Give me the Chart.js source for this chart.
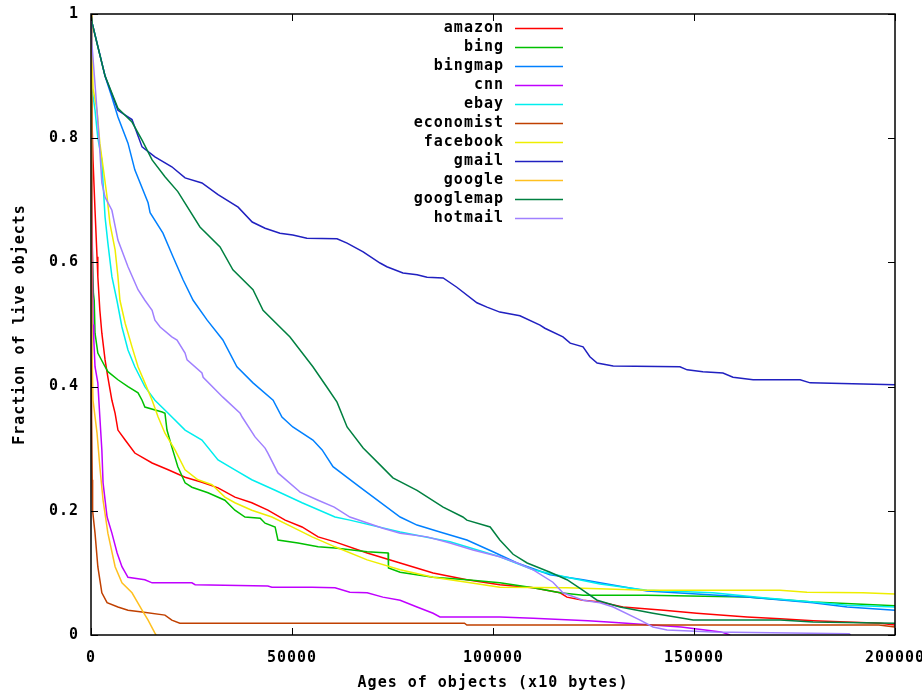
<!DOCTYPE html>
<html>
<head>
<meta charset="utf-8">
<script src="https://cdn.jsdelivr.net/npm/chart.js@4.4.0/dist/chart.umd.min.js"></script>
<style>
  html, body { margin: 0; padding: 0; background: #fff; }
  canvas { display: block; }
</style>
</head>
<body>
<canvas id="c" width="922" height="698"></canvas>
<script>
// ---- data ----
const seriesNames = ["amazon", "bing", "bingmap", "cnn", "ebay", "economist",
                     "facebook", "gmail", "google", "googlemap", "hotmail"];

const xTickValues = [0, 50000, 100000, 150000, 200000];
const xTickLabels = ["0", "50000", "100000", "150000", "200000"];
const yTickValues = [0, 0.2, 0.4, 0.6, 0.8, 1];
const yTickLabels = ["0", "0.2", "0.4", "0.6", "0.8", "1"];

// [age, fraction]
const amazon = [[0,1],[250,0.9],[250,0.83],[500,0.765],[1000,0.684],[1500,0.609],[1700,0.577],[2200,0.523],[2700,0.486],[3500,0.443],[4200,0.415],[5200,0.378],[6000,0.357],[6700,0.33],[8500,0.314],[10900,0.293],[15200,0.277],[19200,0.266],[23400,0.254],[27600,0.246],[31600,0.237],[35800,0.222],[40000,0.213],[44000,0.201],[48300,0.185],[52500,0.174],[56500,0.158],[60700,0.15],[68700,0.132],[76900,0.116],[85100,0.1],[93500,0.089],[101700,0.081],[110000,0.076],[116700,0.068],[118400,0.061],[122400,0.056],[126600,0.053],[132300,0.045],[142500,0.04],[150700,0.035],[163200,0.029],[171400,0.026],[179600,0.023],[196300,0.019],[200000,0.016]];
const bing = [[0,1],[150,0.67],[400,0.6],[600,0.55],[800,0.539],[1000,0.486],[1700,0.454],[3500,0.432],[4200,0.424],[6700,0.411],[9200,0.4],[11700,0.39],[12700,0.378],[13400,0.367],[17700,0.359],[18400,0.357],[18900,0.33],[20100,0.303],[21600,0.271],[23400,0.245],[25100,0.238],[29100,0.229],[33300,0.217],[35800,0.201],[38300,0.19],[42100,0.188],[43300,0.18],[45800,0.174],[46500,0.153],[51500,0.148],[56500,0.142],[60700,0.14],[68700,0.134],[73900,0.132],[74000,0.108],[76900,0.101],[85100,0.093],[93500,0.089],[101700,0.084],[110000,0.076],[116700,0.068],[122400,0.064],[138300,0.064],[163200,0.061],[179600,0.053],[200000,0.047]];
const bingmap = [[0,1],[300,0.985],[3500,0.9],[5200,0.866],[6700,0.834],[9200,0.792],[10900,0.749],[14200,0.696],[14700,0.68],[17900,0.647],[20400,0.609],[22900,0.572],[25400,0.539],[28900,0.507],[32800,0.475],[36300,0.432],[40300,0.406],[45300,0.378],[47500,0.351],[50200,0.335],[55200,0.314],[57500,0.298],[60200,0.271],[66900,0.238],[76900,0.19],[81100,0.177],[86800,0.166],[93500,0.153],[100000,0.134],[106000,0.116],[114200,0.097],[122400,0.089],[126600,0.084],[138300,0.071],[150700,0.066],[163200,0.061],[179600,0.052],[188100,0.045],[200000,0.04]];
const cnn = [[0,1],[100,0.85],[300,0.65],[500,0.5],[700,0.475],[1000,0.432],[1700,0.406],[2200,0.351],[2700,0.298],[3000,0.245],[4000,0.19],[5200,0.164],[6500,0.132],[7700,0.11],[9200,0.093],[13400,0.089],[15200,0.084],[25100,0.084],[25900,0.081],[44000,0.079],[45000,0.077],[55000,0.077],[60700,0.076],[64400,0.069],[68700,0.068],[72600,0.061],[76900,0.056],[81100,0.045],[85100,0.035],[86800,0.029],[101700,0.029],[110000,0.027],[123600,0.023],[128600,0.021],[146800,0.013],[156700,0.005],[159000,0]];
const ebay = [[0,1],[250,0.88],[1000,0.845],[1700,0.8],[2700,0.765],[3000,0.728],[3500,0.673],[4200,0.631],[5200,0.577],[6500,0.537],[7700,0.496],[9200,0.459],[10900,0.432],[13400,0.4],[15900,0.378],[19200,0.357],[23400,0.33],[27600,0.314],[31600,0.282],[35800,0.266],[40000,0.25],[45800,0.233],[52500,0.213],[60700,0.19],[64400,0.185],[76900,0.166],[89300,0.15],[101700,0.126],[110000,0.105],[118400,0.093],[126600,0.082],[138300,0.072],[154700,0.068],[167200,0.06],[179600,0.053],[188100,0.048],[200000,0.045]];
const economist = [[0,1],[100,0.6],[200,0.35],[300,0.25],[400,0.2],[1000,0.164],[1700,0.11],[2700,0.068],[4000,0.052],[6700,0.045],[9200,0.04],[12700,0.037],[18400,0.032],[20100,0.024],[22100,0.019],[92900,0.019],[93500,0.016],[196000,0.016],[200000,0.013]];
const facebook = [[0,1],[250,0.942],[500,0.88],[1500,0.845],[2200,0.792],[3000,0.754],[4000,0.705],[4700,0.663],[6000,0.62],[6700,0.577],[7200,0.539],[8500,0.502],[10200,0.464],[11700,0.432],[13400,0.406],[15200,0.378],[16700,0.351],[18400,0.325],[20900,0.298],[23400,0.266],[26600,0.25],[30100,0.242],[33300,0.222],[35800,0.213],[40000,0.201],[45000,0.19],[50000,0.174],[55000,0.158],[60700,0.142],[68700,0.121],[76900,0.105],[85100,0.093],[93500,0.085],[101700,0.077],[118400,0.076],[138300,0.072],[171400,0.072],[178100,0.069],[192000,0.068],[200000,0.066]];
const gmail = [[0,1],[300,0.985],[3500,0.9],[6700,0.845],[10200,0.83],[12700,0.786],[15900,0.77],[20100,0.754],[23400,0.736],[27600,0.728],[31600,0.709],[36600,0.689],[40100,0.665],[43300,0.655],[47000,0.647],[50200,0.644],[53700,0.639],[61200,0.638],[63700,0.631],[67700,0.617],[71900,0.599],[73600,0.593],[77600,0.583],[81100,0.58],[83600,0.576],[87600,0.575],[91000,0.56],[96000,0.535],[98500,0.528],[101700,0.52],[106700,0.514],[111700,0.499],[112900,0.494],[117400,0.48],[119200,0.47],[122400,0.464],[124100,0.448],[125900,0.438],[129900,0.433],[146500,0.432],[148300,0.427],[152200,0.424],[157200,0.422],[159700,0.415],[164700,0.411],[176400,0.411],[178900,0.406],[200000,0.403]];
const google = [[0,1],[100,0.7],[200,0.55],[250,0.454],[500,0.378],[1500,0.325],[2200,0.271],[3000,0.217],[4200,0.164],[6000,0.11],[7700,0.084],[10200,0.068],[12700,0.04],[14200,0.024],[15900,0.003],[16200,0]];
const googlemap = [[0,1],[300,0.985],[3500,0.9],[6700,0.848],[10200,0.826],[12700,0.797],[15200,0.765],[18400,0.738],[21600,0.714],[27100,0.657],[32100,0.625],[35300,0.588],[40300,0.556],[42800,0.523],[49500,0.48],[55200,0.432],[58700,0.399],[61200,0.375],[63700,0.335],[67700,0.301],[71900,0.274],[75100,0.253],[81100,0.233],[87600,0.206],[92500,0.19],[93500,0.185],[99300,0.174],[101700,0.153],[105000,0.13],[108500,0.116],[114200,0.101],[118400,0.089],[122400,0.072],[125900,0.056],[131600,0.045],[139800,0.035],[149800,0.024],[171400,0.024],[179600,0.021],[200000,0.019]];
const hotmail = [[0,1],[250,0.95],[1200,0.87],[2000,0.8],[2700,0.728],[3500,0.705],[5200,0.684],[6700,0.636],[9200,0.593],[11700,0.556],[13400,0.539],[15200,0.523],[15900,0.507],[17200,0.496],[20100,0.48],[21400,0.475],[23400,0.454],[23900,0.443],[27600,0.422],[27900,0.415],[32800,0.383],[37100,0.357],[37600,0.351],[40800,0.319],[43300,0.301],[44000,0.293],[46500,0.261],[51500,0.233],[52000,0.23],[56500,0.217],[60500,0.206],[64400,0.19],[72600,0.172],[76900,0.164],[83600,0.158],[89300,0.148],[95000,0.137],[101700,0.126],[106000,0.116],[110000,0.105],[114900,0.085],[117400,0.068],[122400,0.056],[126600,0.052],[129900,0.045],[136600,0.024],[139800,0.013],[143300,0.008],[154700,0.005],[188600,0.002],[189000,0]];

const seriesData = [amazon, bing, bingmap, cnn, ebay, economist, facebook, gmail, google, googlemap, hotmail];

// gnuplot default line colours
const seriesColors = ["#ff0000", "#00c000", "#0080ff", "#c000ff", "#00eeee", "#c04000",
                      "#eeee00", "#2020c0", "#ffc020", "#008040", "#a080ff"];

const FONT = "bold 15px 'DejaVu Sans Mono', monospace";

// white background
const bgPlugin = {
  id: "bg",
  beforeDraw(chart) {
    const ctx = chart.ctx;
    ctx.save();
    ctx.fillStyle = "#fff";
    ctx.fillRect(0, 0, chart.width, chart.height);
    ctx.restore();
  }
};

// gnuplot style frame, inward ticks, labels and key
const frame = {
  id: "frame",
  afterDatasetsDraw(chart) {
    const ctx = chart.ctx;
    const a = chart.chartArea;
    const xs = chart.scales.x, ys = chart.scales.y;
    const tl = 7;
    ctx.save();
    ctx.strokeStyle = "#000";
    ctx.lineWidth = 1.5;
    ctx.strokeRect(a.left, a.top, a.right - a.left, a.bottom - a.top);

    ctx.beginPath();
    xTickValues.forEach(v => {
      const px = Math.round(xs.getPixelForValue(v)) + 0.5;
      ctx.moveTo(px, a.bottom); ctx.lineTo(px, a.bottom - tl);
      ctx.moveTo(px, a.top); ctx.lineTo(px, a.top + tl);
    });
    yTickValues.forEach(v => {
      const py = Math.round(ys.getPixelForValue(v)) + 0.5;
      ctx.moveTo(a.left, py); ctx.lineTo(a.left + tl, py);
      ctx.moveTo(a.right, py); ctx.lineTo(a.right - tl, py);
    });
    ctx.lineWidth = 1;
    ctx.stroke();

    ctx.fillStyle = "#000";
    ctx.font = FONT;
    ctx.letterSpacing = "1px";
    ctx.textBaseline = "middle";

    ctx.textAlign = "right";
    yTickValues.forEach((v, i) => {
      ctx.fillText(yTickLabels[i], a.left - 12, ys.getPixelForValue(v));
    });
    ctx.textAlign = "center";
    xTickValues.forEach((v, i) => {
      ctx.fillText(xTickLabels[i], xs.getPixelForValue(v), a.bottom + 23);
    });

    ctx.fillText("Ages of objects (x10 bytes)", (a.left + a.right) / 2, a.bottom + 48);
    ctx.save();
    ctx.translate(20, (a.top + a.bottom) / 2);
    ctx.rotate(-Math.PI / 2);
    ctx.fillText("Fraction of live objects", 0, 0);
    ctx.restore();

    // key
    ctx.textAlign = "right";
    chart.data.datasets.forEach((ds, i) => {
      const y = 28 + i * 19;
      ctx.fillStyle = "#000";
      ctx.fillText(ds.label, 504, y);
      ctx.strokeStyle = ds.borderColor;
      ctx.lineWidth = 1.5;
      ctx.beginPath();
      ctx.moveTo(515, y + 0.5);
      ctx.lineTo(563, y + 0.5);
      ctx.stroke();
    });
    ctx.restore();
  }
};

new Chart(document.getElementById("c"), {
  type: "line",
  data: {
    datasets: seriesNames.map((name, i) => ({
      label: name,
      data: seriesData[i].map(p => ({ x: p[0], y: p[1] })),
      borderColor: seriesColors[i],
      borderWidth: 1.5,
      pointRadius: 0,
      tension: 0,
      fill: false,
      order: seriesNames.length - i
    }))
  },
  options: {
    responsive: false,
    animation: false,
    layout: { padding: { left: 91, top: 14, right: 27, bottom: 63 } },
    plugins: { legend: { display: false }, tooltip: { enabled: false } },
    scales: {
      x: { type: "linear", min: 0, max: 200000, display: false },
      y: { type: "linear", min: 0, max: 1, display: false }
    }
  },
  plugins: [bgPlugin, frame]
});
</script>
</body>
</html>
